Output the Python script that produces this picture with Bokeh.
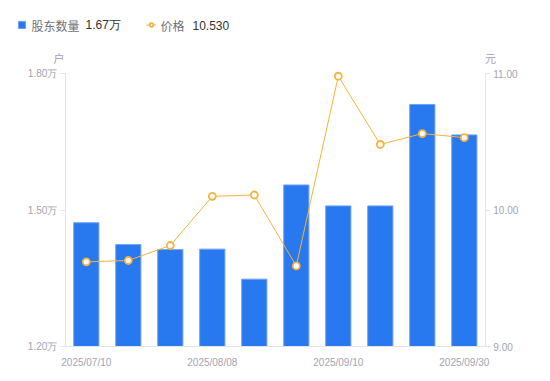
from bokeh.plotting import figure
from bokeh.models import (Range1d, LinearAxis, FixedTicker, PrintfTickFormatter,
                          Legend, LegendItem, Label, ColumnDataSource)
from bokeh.embed import file_html
from bokeh.resources import INLINE

# ---- data ----
dates = ["2025/07/10", "2025/07/20", "2025/07/31", "2025/08/08", "2025/08/20",
         "2025/08/31", "2025/09/10", "2025/09/19", "2025/09/26", "2025/09/30"]
holders = [1.472, 1.424, 1.413, 1.414, 1.348, 1.555, 1.509, 1.509, 1.732, 1.665]  # 万户
price = [9.62, 9.63, 9.74, 10.10, 10.11, 9.59, 10.98, 10.48, 10.56, 10.53]         # 元
shown_ticks = [0, 3, 6, 9]
left_ticks = [1.2, 1.5, 1.8]
right_ticks = [9.0, 10.0, 11.0]
series_names = ["股东数量", "价格"]
units = ["户", "元"]

BLUE = "#2878f0"
ORANGE = "#f7b23c"
AXIS = "#e3e3e8"
TICKTXT = "#a3a3b3"
FONT = "Liberation Sans"
CJK = "Noto Sans CJK SC"

# ---- layout (pixels) ----
W, H = 550, 381
PL, PR, PT, PB = 64.8, 65.2, 73, 35          # plot-area margins inside the canvas
n = len(dates)
cat_px = (W - PL - PR) / n
lo, hi = left_ticks[0], left_ticks[-1]
plo, phi = right_ticks[0], right_ticks[-1]
ph = H - PT - PB
u_l = (hi - lo) / ph
u_r = (phi - plo) / ph

src = ColumnDataSource(dict(x=list(range(n)), holders=holders, price=price, date=dates))

p = figure(width=W, height=H,
           x_range=Range1d(-0.5 - PL / cat_px, n - 0.5 + PR / cat_px),
           y_range=Range1d(lo - PB * u_l, hi + PT * u_l),
           output_backend="svg", toolbar_location=None, min_border=0)
p.extra_y_ranges = {"price": Range1d(plo - PB * u_r, phi + PT * u_r)}
p.xgrid.visible = False
p.ygrid.visible = False
p.outline_line_color = None
p.background_fill_color = "white"
p.border_fill_color = "white"

bars = p.vbar(x="x", top="holders", bottom=lo, width=0.6, source=src,
              fill_color=BLUE, line_color="#6ea2f5", line_width=1)
line = p.line(x="x", y="price", source=src, y_range_name="price", line_color=ORANGE, line_width=1)
pts = p.scatter(x="x", y="price", source=src, y_range_name="price", size=7,
                fill_color="white", line_color=ORANGE, line_width=1.8)

# axes
def style(ax):
    ax.minor_tick_line_color = None
    ax.axis_line_color = AXIS
    ax.major_tick_line_color = AXIS
    ax.major_tick_in = 0
    ax.major_tick_out = 5
    ax.major_label_text_color = TICKTXT
    ax.major_label_text_font = FONT
    ax.major_label_text_font_size = "10px"
    ax.major_label_standoff = 3

xa = p.xaxis[0]
style(xa)
xa.ticker = FixedTicker(ticks=shown_ticks)
xa.major_label_overrides = {i: dates[i] for i in shown_ticks}
xa.major_tick_line_color = None
xa.major_label_standoff = 5
xa.fixed_location = lo
xa.bounds = (-0.5, n - 0.5)

ya = p.yaxis[0]
style(ya)
ya.ticker = FixedTicker(ticks=left_ticks)
ya.formatter = PrintfTickFormatter(format="%.2f万")
ya.fixed_location = -0.5
ya.bounds = (lo, hi)

ra = LinearAxis(y_range_name="price", ticker=FixedTicker(ticks=right_ticks),
                formatter=PrintfTickFormatter(format="%.2f"))
style(ra)
ra.fixed_location = n - 0.5
ra.bounds = (plo, phi)
p.add_layout(ra, "right")

# unit labels
for xx, t in ((58.5, units[0]), (490, units[1])):
    p.add_layout(Label(x=xx, y=H - 57.5, x_units="screen", y_units="screen", text=t,
                       text_align="center", text_baseline="middle", text_color=TICKTXT,
                       text_font=CJK, text_font_size="11px"))

# legend keys (glyphs only) + texts
common = dict(padding=0, margin=0, border_line_alpha=0, background_fill_alpha=0,
              label_text_font_size="1px", label_text_alpha=0,
              label_standoff=0, glyph_height=9, label_height=1, label_width=1)
leg1 = Legend(items=[LegendItem(label=" ", renderers=[bars])], location=(17, H - 29),
              glyph_width=9, **common)
leg2 = Legend(items=[LegendItem(label=" ", renderers=[line, pts])], location=(146, H - 29),
              glyph_width=10, **common)
p.add_layout(leg1)
p.add_layout(leg2)

LY = H - 24.5
for xx, t in ((31, series_names[0]), (160, series_names[1])):
    p.add_layout(Label(x=xx, y=LY, x_units="screen", y_units="screen", text=t,
                       text_baseline="middle", text_color="#707078",
                       text_font=CJK, text_font_size="12px"))
p.add_layout(Label(x=85, y=LY, x_units="screen", y_units="screen",
                   text=f"{holders[-1]:.2f}万", text_baseline="middle",
                   text_color="#333333", text_font=FONT, text_font_size="12px"))
p.add_layout(Label(x=192, y=LY, x_units="screen", y_units="screen",
                   text=f"{price[-1]:.3f}", text_baseline="middle",
                   text_color="#333333", text_font=FONT, text_font_size="12px"))

open("out.html", "w").write(file_html(p, INLINE))
